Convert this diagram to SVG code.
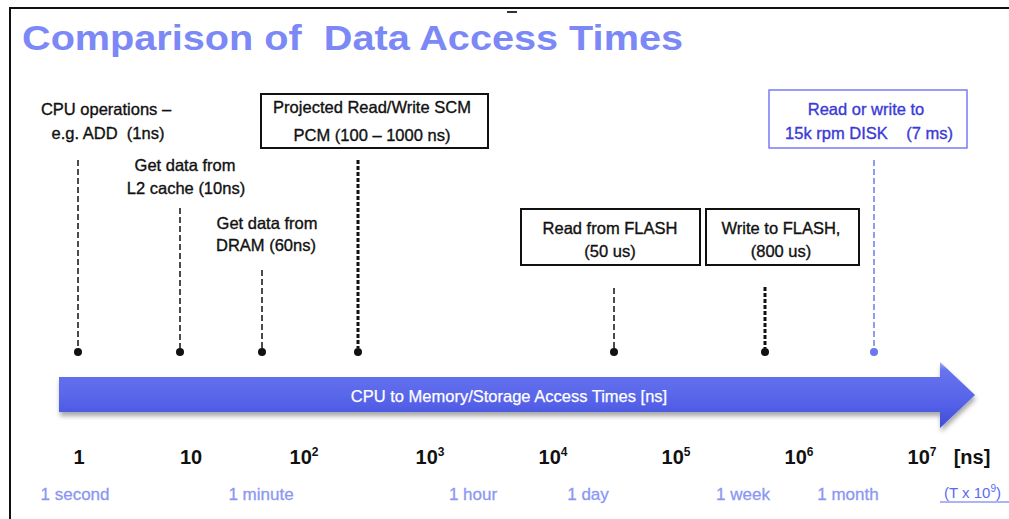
<svg xmlns="http://www.w3.org/2000/svg" width="1009" height="519" viewBox="0 0 1009 519">
<style>
.lbl{font-family:"Liberation Sans",Arial,sans-serif;font-size:16.5px;fill:#111;stroke:#111;stroke-width:0.35;text-anchor:middle}
.blue{fill:#3a3ad8;stroke:#3a3ad8}
.box{fill:#fff;stroke:#111;stroke-width:2}
.dash{stroke:#111;stroke-width:1.5;stroke-dasharray:6 3;fill:none}
.thick{stroke-width:3;stroke-dasharray:4 2}
.dot{fill:#111}
.num{font-family:"Liberation Sans",Arial,sans-serif;font-size:20px;font-weight:bold;fill:#111;text-anchor:middle}
.sup{font-size:12px;font-weight:bold}
.time{font-family:"Liberation Sans",Arial,sans-serif;font-size:17px;fill:#8a98f2;stroke:#8a98f2;stroke-width:0.3;text-anchor:middle}
</style>
<defs>
<linearGradient id="ag" x1="0" y1="0" x2="0" y2="1">
<stop offset="0" stop-color="#a4aef8"/>
<stop offset="0.12" stop-color="#6674ee"/>
<stop offset="0.6" stop-color="#5663e9"/>
<stop offset="1" stop-color="#3f4cd6"/>
</linearGradient>
<filter id="sh" x="-5%" y="-20%" width="110%" height="160%">
<feGaussianBlur in="SourceAlpha" stdDeviation="2.5"/>
<feOffset dx="1" dy="4" result="b"/>
<feComponentTransfer><feFuncA type="linear" slope="0.35"/></feComponentTransfer>
<feMerge><feMergeNode/><feMergeNode in="SourceGraphic"/></feMerge>
</filter>
</defs>
<rect width="1009" height="519" fill="#fff"/>
<path d="M10 519 V8 H1009" fill="none" stroke="#111" stroke-width="2"/>
<rect x="507" y="11" width="10" height="2" fill="#333"/>
<text x="22" y="50" font-family="Liberation Sans,Arial,sans-serif" font-size="35" font-weight="bold" fill="#7b88f6" textLength="661" lengthAdjust="spacingAndGlyphs" xml:space="preserve">Comparison of  Data Access Times</text>

<g id="connectors">
<line class="dash" x1="78" y1="160" x2="78" y2="348"/>
<line class="dash" x1="180" y1="208" x2="180" y2="348"/>
<line class="dash" x1="262" y1="270" x2="262" y2="348"/>
<line class="dash thick" x1="358" y1="160" x2="358" y2="348"/>
<line class="dash" x1="614" y1="288" x2="614" y2="348"/>
<line class="dash thick" x1="765" y1="287" x2="765" y2="348"/>
<line class="dash" x1="874" y1="160" x2="874" y2="348" style="stroke:#6f7cf0"/>
<circle class="dot" cx="78" cy="352" r="4"/>
<circle class="dot" cx="180" cy="352" r="4"/>
<circle class="dot" cx="262" cy="352" r="4"/>
<circle class="dot" cx="358" cy="352" r="4"/>
<circle class="dot" cx="614" cy="352" r="4"/>
<circle class="dot" cx="765" cy="352" r="4"/>
<circle cx="874" cy="352" r="4" fill="#6a78f0"/>
</g>

<g id="axis-arrow">
<path d="M59 377 H940 V362 L975 395 L940 428 V412 H59 Z" fill="url(#ag)" filter="url(#sh)"/>
<text x="509" y="402" font-family="Liberation Sans,Arial,sans-serif" font-size="16.5" fill="#fff" stroke="#fff" stroke-width="0.25" text-anchor="middle">CPU to Memory/Storage Access Times [ns]</text>
</g>

<g id="cpu">
<text class="lbl" x="106" y="115">CPU operations –</text>
<text class="lbl" x="108" y="139" xml:space="preserve">e.g. ADD  (1ns)</text>
</g>
<g id="l2">
<text class="lbl" x="185" y="171">Get data from</text>
<text class="lbl" x="186" y="194">L2 cache (10ns)</text>
</g>
<g id="dram">
<text class="lbl" x="267" y="229">Get data from</text>
<text class="lbl" x="266" y="251">DRAM (60ns)</text>
</g>
<g id="scm">
<rect class="box" x="261" y="94" width="227" height="54"/>
<text class="lbl" x="372" y="113">Projected Read/Write SCM</text>
<text class="lbl" x="372" y="141">PCM (100 – 1000 ns)</text>
</g>
<g id="flash-read">
<rect class="box" x="521" y="209" width="179" height="56"/>
<text class="lbl" x="610" y="234">Read from FLASH</text>
<text class="lbl" x="610" y="257">(50 us)</text>
</g>
<g id="flash-write">
<rect class="box" x="706" y="209" width="153" height="56"/>
<text class="lbl" x="781" y="234">Write to FLASH,</text>
<text class="lbl" x="781" y="257">(800 us)</text>
</g>
<g id="disk">
<rect x="769" y="90" width="198" height="58" fill="#fff" stroke="#7a7af5" stroke-width="1.5"/>
<text class="lbl blue" x="866" y="115">Read or write to</text>
<text class="lbl blue" x="869" y="139" xml:space="preserve">15k rpm DISK    (7 ms)</text>
</g>

<g id="scale">
<text class="num" x="79" y="464">1</text>
<text class="num" x="191" y="464">10</text>
<text class="num" x="304" y="464">10<tspan class="sup" dy="-8">2</tspan></text>
<text class="num" x="430" y="464">10<tspan class="sup" dy="-8">3</tspan></text>
<text class="num" x="553" y="464">10<tspan class="sup" dy="-8">4</tspan></text>
<text class="num" x="676" y="464">10<tspan class="sup" dy="-8">5</tspan></text>
<text class="num" x="799" y="464">10<tspan class="sup" dy="-8">6</tspan></text>
<text class="num" x="922" y="464">10<tspan class="sup" dy="-8">7</tspan></text>
<text class="num" x="972" y="464">[ns]</text>
<text class="time" x="75" y="500">1 second</text>
<text class="time" x="261" y="500">1 minute</text>
<text class="time" x="473" y="500">1 hour</text>
<text class="time" x="588" y="500">1 day</text>
<text class="time" x="743" y="500">1 week</text>
<text class="time" x="848" y="500">1 month</text>
<text x="944" y="498" font-family="Liberation Sans,Arial,sans-serif" font-size="15" fill="#5a6af0">(T x 10<tspan font-size="10" dy="-6">9</tspan><tspan dy="6">)</tspan></text>
<line x1="940" y1="502" x2="1009" y2="502" stroke="#5a6af0" stroke-width="1.2"/>
</g>
</svg>
